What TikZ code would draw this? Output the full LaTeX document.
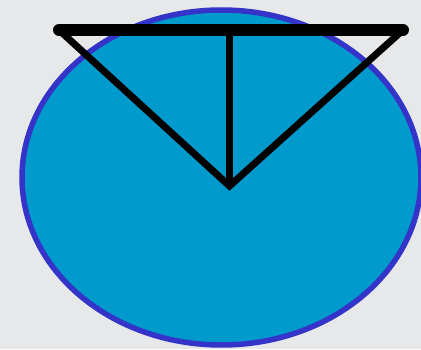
\documentclass[tikz,border=0pt]{standalone}
\usepackage{tikz}
\usetikzlibrary{calc}
\definecolor{bgray}{HTML}{E6E8E9}
\definecolor{skyfill}{HTML}{009ACC}
\definecolor{rimblue}{HTML}{3434C8}

\begin{document}
\begin{tikzpicture}[
  x=1pt, y=1pt,
  rim/.style={draw=rimblue, fill=skyfill, line width=5.5pt},
  bar/.style={draw=black, line width=12pt, line cap=round},
  leg/.style={draw=black, line width=7pt, line cap=round, line join=miter},
]

% background and bounding box
\fill[bgray] (0,0) rectangle (421,349);
\useasboundingbox (0,0) rectangle (421,349);

% body
\draw[rim] (221.5,171.5) ellipse [x radius=199.5, y radius=167.5];

% points of the frame
\coordinate (barL) at (59,319);
\coordinate (barR) at (403,319);
\coordinate (barM) at (229.5,319);
\coordinate (apex) at (229.5,163);

\draw[leg] (barL) -- (apex) -- (barR);
\draw[leg] (barM) -- (apex);
\draw[bar] (barL) -- (barR);

\end{tikzpicture}
\end{document}
